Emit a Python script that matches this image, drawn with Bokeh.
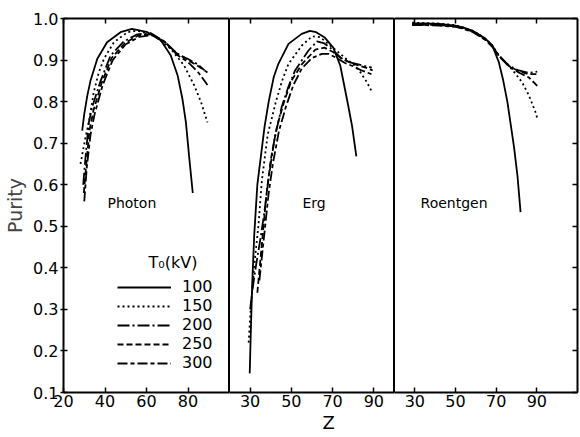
from bokeh.plotting import figure
from bokeh.layouts import gridplot
from bokeh.models import (Range1d, FixedTicker, LinearAxis, Title, Label,
                          PrintfTickFormatter, CustomJSTickFormatter, Legend, LegendItem)
from bokeh.embed import file_html
from bokeh.resources import INLINE

FONT = "DejaVu Sans"

# Tube potentials T0 (kV) and the line style used for each
energies = ["100", "150", "200", "250", "300"]
dashes = {"100": "solid", "150": "2 3", "200": "12 3 2 3", "250": "6 3", "300": "10 3 4 3"}

y_ticks = [0.1, 0.2, 0.3, 0.4, 0.5, 0.6, 0.7, 0.8, 0.9, 1.0]

# ---- Photon purity vs Z ----
photon_z100 = [29, 30, 31.5, 33, 36.3, 41, 47.5, 53, 60, 67, 71.7, 75, 77.3, 79, 80.5, 82.3]
photon_y100 = [0.73, 0.77, 0.815, 0.85, 0.903, 0.943, 0.967, 0.975, 0.968, 0.947, 0.911, 0.863, 0.807, 0.75, 0.67, 0.58]
photon_z150 = [28.2, 29.5, 30.6, 32.2, 34.6, 37, 39.5, 44.3, 50.8, 55.6, 63.6, 71.7, 78.1, 83, 86.2, 89.4]
photon_y150 = [0.65, 0.685, 0.714, 0.75, 0.823, 0.87, 0.903, 0.943, 0.967, 0.971, 0.959, 0.927, 0.887, 0.839, 0.80, 0.75]
photon_z200 = [29.5, 30.5, 32.2, 34, 37.9, 42.7, 49.1, 55.6, 62, 68.5, 74.9, 79.8, 84.6, 88]
photon_y200 = [0.60, 0.66, 0.75, 0.79, 0.85, 0.911, 0.945, 0.962, 0.965, 0.945, 0.915, 0.903, 0.89, 0.875]
photon_z250 = [29.8, 31, 32.5, 34.5, 38.4, 43.2, 49.6, 56, 62.5, 68.5, 74.9, 80, 85, 89.4]
photon_y250 = [0.58, 0.65, 0.73, 0.78, 0.845, 0.905, 0.941, 0.959, 0.962, 0.944, 0.915, 0.90, 0.885, 0.87]
photon_z300 = [30, 31.2, 33, 35, 38.9, 43.7, 50, 56.5, 63, 69, 74.9, 80, 85, 89.4]
photon_y300 = [0.56, 0.64, 0.72, 0.77, 0.84, 0.90, 0.938, 0.956, 0.96, 0.943, 0.912, 0.895, 0.87, 0.84]

# ---- Erg (energy) purity vs Z ----
erg_z100 = [29.8, 30.3, 31, 32, 33.5, 35, 37, 39, 41.5, 43.7, 48.6, 55, 59, 62, 66, 70.3, 73.7, 76.9, 79.4, 81.5]
erg_y100 = [0.146, 0.24, 0.36, 0.48, 0.60, 0.66, 0.74, 0.80, 0.86, 0.891, 0.939, 0.963, 0.970, 0.967, 0.955, 0.93, 0.887, 0.807, 0.742, 0.668]
erg_z150 = [29.3, 30, 31, 32.5, 34, 35.7, 38.5, 42.5, 45.5, 48.6, 55.1, 60, 64, 68.8, 72.5, 76, 80, 83.4, 86.6, 89.1]
erg_y150 = [0.22, 0.28, 0.35, 0.43, 0.50, 0.61, 0.72, 0.80, 0.85, 0.891, 0.935, 0.957, 0.955, 0.935, 0.92, 0.905, 0.89, 0.871, 0.847, 0.823]
erg_z200 = [30, 31.5, 33, 35, 36.8, 38.8, 41.8, 45.3, 48.5, 51.8, 58.3, 62.4, 66, 70, 74, 78, 82, 86, 89]
erg_y200 = [0.30, 0.36, 0.41, 0.47, 0.53, 0.61, 0.71, 0.787, 0.835, 0.875, 0.923, 0.945, 0.94, 0.925, 0.905, 0.895, 0.89, 0.885, 0.882]
erg_z250 = [33.5, 35, 36.5, 38, 40, 43, 46.5, 50, 55.1, 61.6, 66, 70, 74, 78, 82, 86, 89.4]
erg_y250 = [0.34, 0.42, 0.50, 0.58, 0.66, 0.74, 0.80, 0.85, 0.89, 0.925, 0.93, 0.92, 0.905, 0.895, 0.888, 0.882, 0.875]
erg_z300 = [34.5, 36, 37.5, 39, 41, 44, 47.5, 51, 55.1, 60, 64.8, 68, 72, 76, 80, 84, 89.4]
erg_y300 = [0.37, 0.44, 0.51, 0.58, 0.65, 0.73, 0.79, 0.84, 0.88, 0.905, 0.915, 0.915, 0.905, 0.893, 0.885, 0.875, 0.865]

# ---- Roentgen (exposure) purity vs Z ----
roent_z100 = [28.7, 35, 42, 50, 54, 58.2, 62, 64.8, 68.1, 71.3, 73.5, 75.5, 77, 78.8, 80.5, 82]
roent_y100 = [0.988, 0.988, 0.987, 0.983, 0.978, 0.971, 0.960, 0.951, 0.935, 0.895, 0.85, 0.80, 0.75, 0.69, 0.62, 0.534]
roent_z150 = [28.7, 35, 42, 50, 54, 58.2, 62, 64.8, 68.1, 71.3, 76.2, 79.5, 82.7, 86.1, 89.3, 90.2]
roent_y150 = [0.990, 0.989, 0.988, 0.984, 0.978, 0.971, 0.960, 0.951, 0.935, 0.911, 0.887, 0.867, 0.847, 0.815, 0.775, 0.76]
roent_z200 = [28.7, 35, 42, 50, 54, 58.2, 62, 64.8, 68.1, 71.3, 76.2, 81.1, 86.1, 90.2]
roent_y200 = [0.986, 0.986, 0.985, 0.982, 0.977, 0.970, 0.959, 0.950, 0.934, 0.911, 0.887, 0.875, 0.869, 0.872]
roent_z250 = [28.7, 35, 42, 50, 54, 58.2, 62, 64.8, 68.1, 71.3, 76.2, 81.1, 86.1, 90.2]
roent_y250 = [0.985, 0.985, 0.984, 0.981, 0.976, 0.969, 0.958, 0.949, 0.933, 0.911, 0.886, 0.873, 0.866, 0.866]
roent_z300 = [28.7, 35, 42, 50, 54, 58.2, 62, 64.8, 68.1, 71.3, 76.2, 81.1, 86.1, 90.2]
roent_y300 = [0.984, 0.984, 0.983, 0.980, 0.975, 0.968, 0.957, 0.948, 0.932, 0.910, 0.885, 0.870, 0.858, 0.838]

photon = {"100": (photon_z100, photon_y100), "150": (photon_z150, photon_y150),
          "200": (photon_z200, photon_y200), "250": (photon_z250, photon_y250),
          "300": (photon_z300, photon_y300)}
erg = {"100": (erg_z100, erg_y100), "150": (erg_z150, erg_y150),
       "200": (erg_z200, erg_y200), "250": (erg_z250, erg_y250),
       "300": (erg_z300, erg_y300)}
roent = {"100": (roent_z100, roent_y100), "150": (roent_z150, roent_y150),
         "200": (roent_z200, roent_y200), "250": (roent_z250, roent_y250),
         "300": (roent_z300, roent_y300)}


def tick_axis(ticks, labels=True, tick_in=5, tick_out=0, line_width=2):
    ax = LinearAxis(ticker=FixedTicker(ticks=ticks),
                    major_tick_in=tick_in, major_tick_out=tick_out,
                    major_tick_line_width=1.5, major_tick_line_color="black",
                    minor_tick_line_color=None,
                    axis_line_width=line_width, axis_line_color="black")
    if labels:
        ax.major_label_text_font = FONT
        ax.major_label_text_font_size = "16px"
        ax.major_label_text_color = "black"
    else:
        # tick marks only, no numbers
        ax.formatter = CustomJSTickFormatter(code="return ''")
        ax.major_label_standoff = 0
    return ax


def panel(x0, x1, xticks, frame_w, bl=0, br=0):
    p = figure(frame_width=frame_w, frame_height=374,
               x_range=Range1d(x0, x1), y_range=Range1d(0.1, 1.0),
               x_axis_location=None, y_axis_location=None,
               output_backend="svg", toolbar_location=None,
               min_border_left=bl, min_border_right=br,
               min_border_top=18, min_border_bottom=45,
               background_fill_color="white", border_fill_color="white",
               outline_line_color="black", outline_line_width=1)
    p.grid.visible = False
    bottom = tick_axis(xticks, labels=True)
    bottom.major_label_standoff = 2
    p.add_layout(bottom, "below")
    p.add_layout(tick_axis(xticks, labels=False), "above")
    return p


def draw(p, series):
    items = []
    for e in energies:
        z, y = series[e]
        r = p.line(z, y, line_color="black", line_width=1.8, line_dash=dashes[e])
        items.append(LegendItem(label=e, renderers=[r]))
    return items


p1 = panel(20, 100, [20, 40, 60, 80], 166, bl=63)
p2 = panel(20, 100, [30, 50, 70, 90], 165)
p3 = panel(20, 110, [30, 50, 70, 90], 183, br=3)

left = tick_axis(y_ticks, labels=True, tick_in=4, tick_out=3)
left.formatter = PrintfTickFormatter(format="%.1f")
left.major_label_standoff = 2
left.axis_label = "Purity"
left.axis_label_text_font = FONT
left.axis_label_text_font_size = "19px"
left.axis_label_text_font_style = "normal"
left.axis_label_standoff = 4
p1.add_layout(left, "left")

p3.add_layout(tick_axis(y_ticks, labels=False, tick_in=5), "right")

items = draw(p1, photon)
draw(p2, erg)
draw(p3, roent)

legend = Legend(items=items, location=(54, 20), orientation="vertical",
                glyph_width=54, glyph_height=16, label_height=16, spacing=0,
                label_standoff=11, padding=0, margin=0,
                label_text_font=FONT, label_text_font_size="16px",
                label_text_color="black",
                background_fill_alpha=0, border_line_color=None)
p1.add_layout(legend, "center")

p1.add_layout(Label(x=61, y=0.413, text="T₀(kV)", text_font=FONT, text_font_size="16px",
                    text_baseline="middle", text_align="left", text_color="black"))

for p, x, txt in [(p1, 41.2, "Photon"), (p2, 55.4, "Erg"), (p3, 32.8, "Roentgen")]:
    p.add_layout(Label(x=x, y=0.555, text=txt, text_font=FONT, text_font_size="14px",
                       text_baseline="middle", text_align="left", text_color="black"))

p2.add_layout(Title(text="Z", align="left", offset=93, standoff=0,
                    text_font=FONT, text_font_size="18px", text_font_style="normal",
                    text_color="black"), "below")

grid = gridplot([[p1, p2, p3]], toolbar_location=None, merge_tools=False)

open("out.html", "w").write(file_html(grid, INLINE))
